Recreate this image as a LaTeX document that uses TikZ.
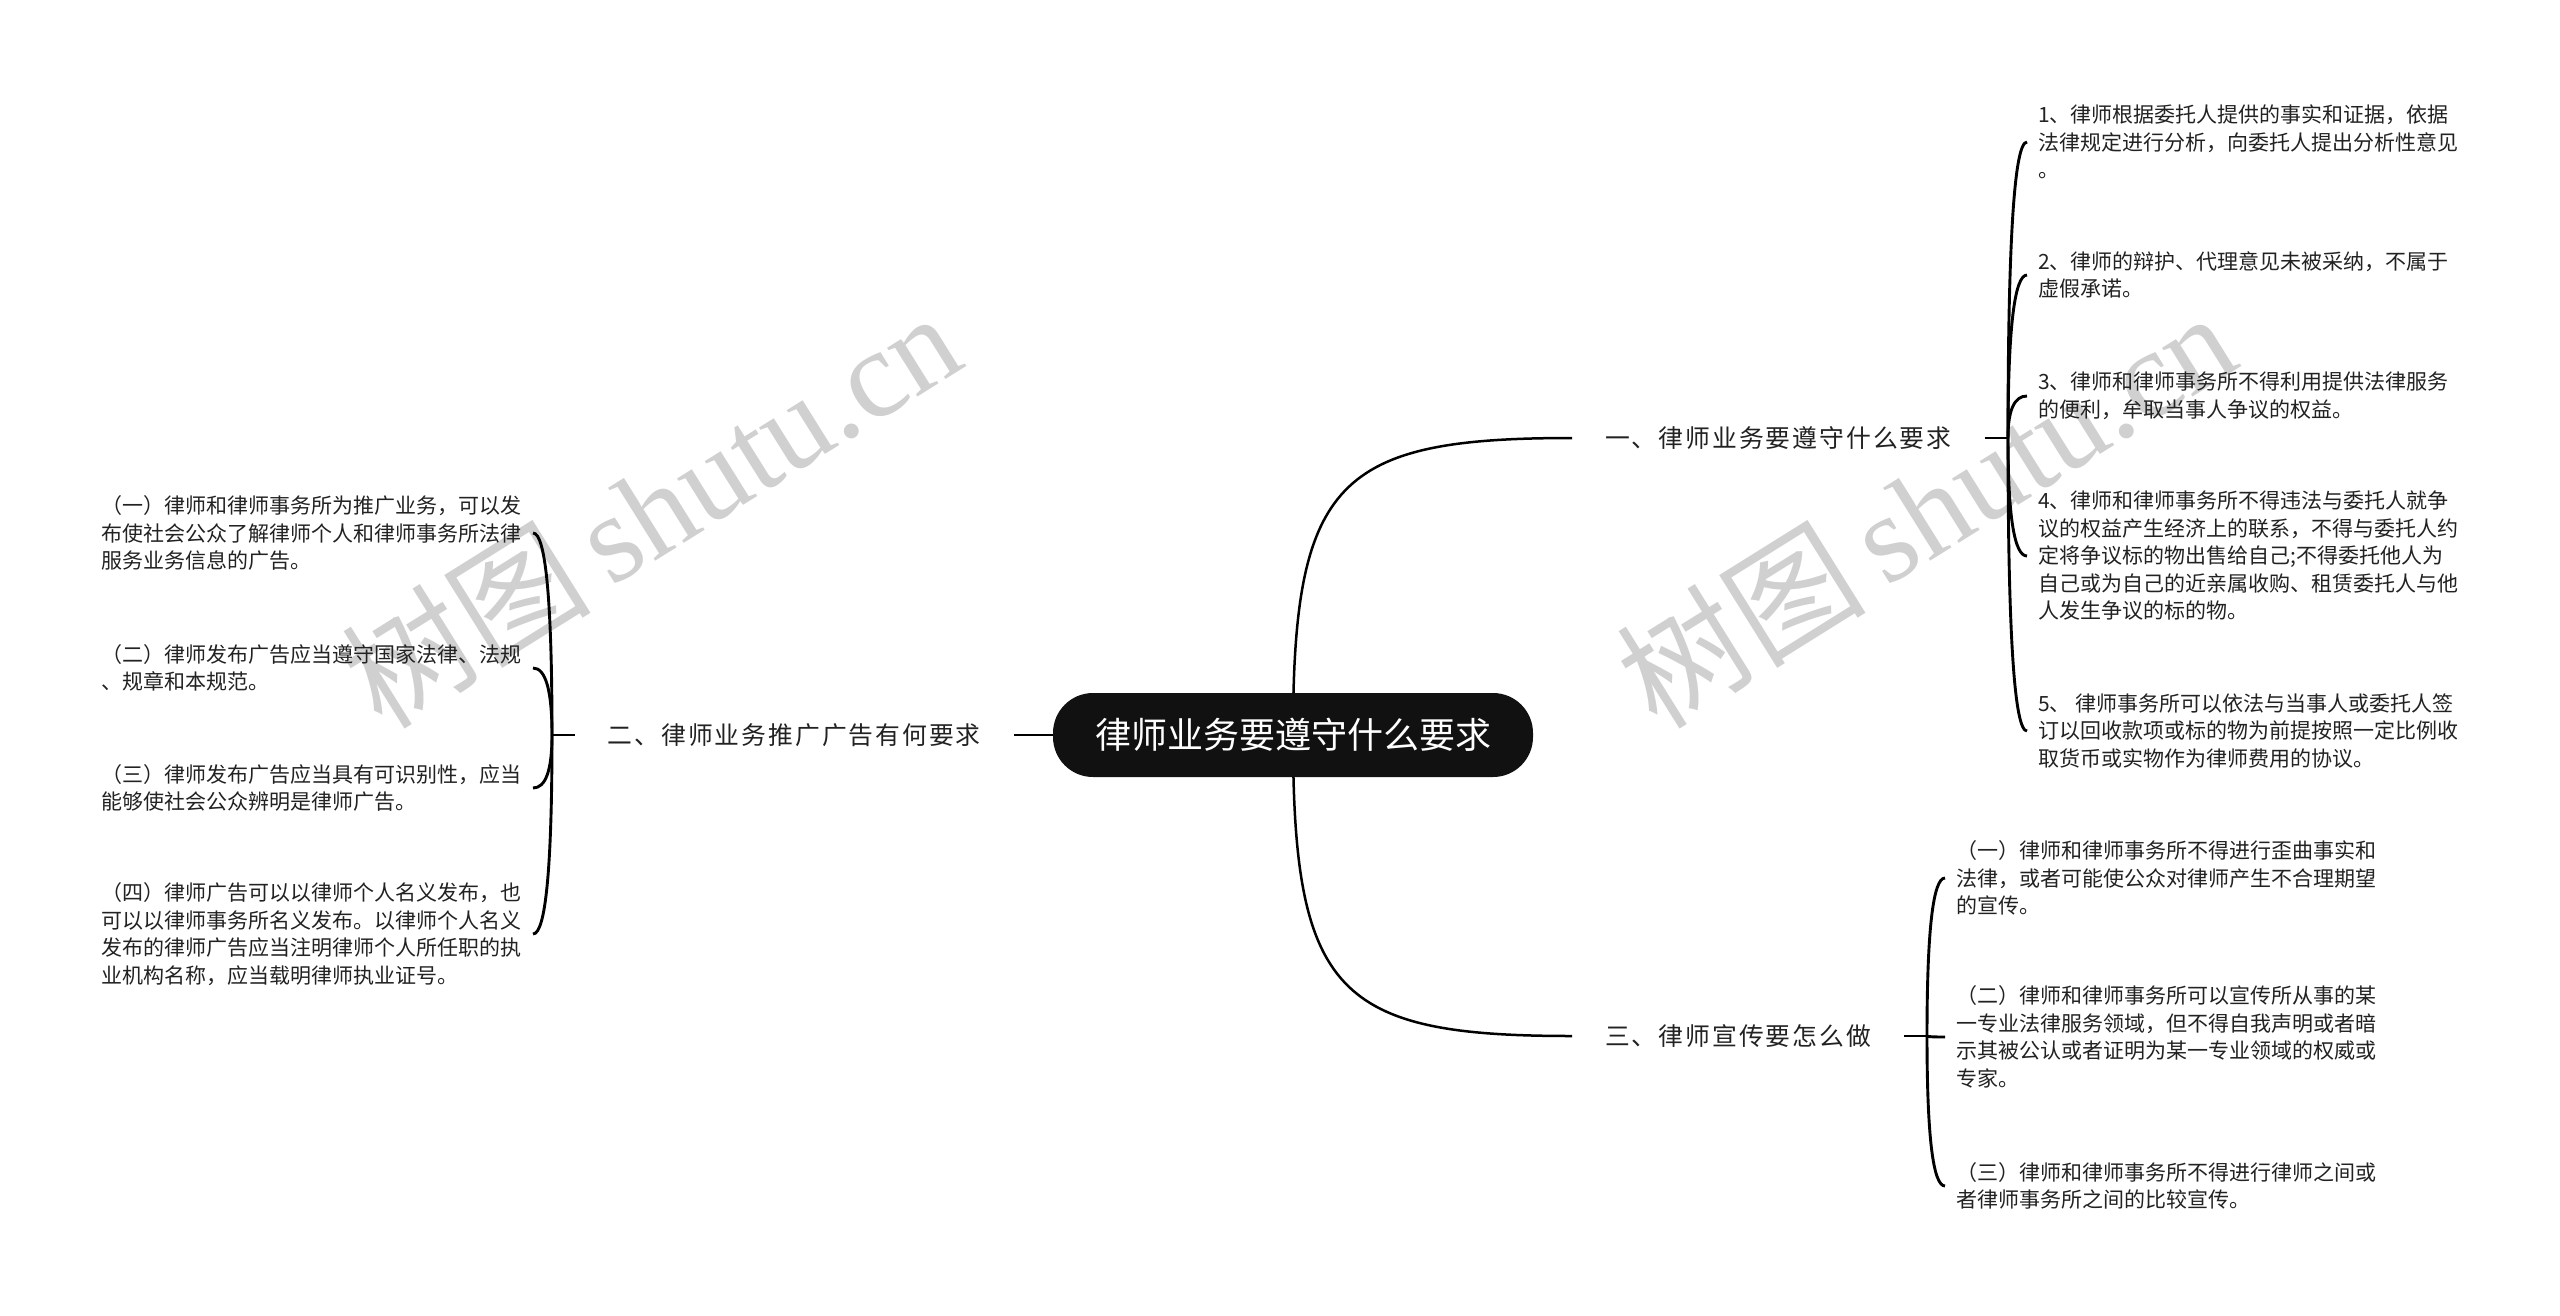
\documentclass[tikz,border=0pt]{standalone}
\usepackage{fontspec}
\newfontfamily\cjk{Noto Sans CJK SC}
\newfontfamily\cjkwide[LetterSpace=8]{Noto Sans CJK SC}
\newfontfamily\wmserif{Liberation Serif}
\usetikzlibrary{calc,backgrounds}
\definecolor{ink}{RGB}{34,34,34}
\definecolor{wm}{RGB}{208,208,208}
\definecolor{rootfill}{RGB}{17,17,17}
\tikzset{
  leafR/.style={font=\cjk\fontsize{21}{27.5}\selectfont, text=ink, align=left, inner xsep=11pt, inner ysep=0pt, anchor=west},
  leafL/.style={leafR, anchor=east},
  branchbox/.style={font=\cjkwide\fontsize{24.8}{28}\selectfont, text=ink, inner xsep=33pt, inner ysep=4pt},
  rootbox/.style={fill=rootfill, text=white, font=\cjk\fontsize{36}{40}\selectfont, rounded corners=40pt, minimum width=480pt, minimum height=84pt, inner sep=0pt},
  link/.style={draw=black, line width=2.5pt},
  bracelink/.style={draw=black, line width=2.9pt},
  brace/.style={to path={.. controls ($(\tikztostart)!0.667!(\tikztostart|-\tikztotarget)$) and ($(\tikztotarget)!0.667!(\tikztostart|-\tikztotarget)$) .. (\tikztotarget)}},
  wmark/.style={text=wm, rotate=32, inner sep=0pt}
}
\begin{document}
\begin{tikzpicture}[x=1pt,y=-1pt]
\useasboundingbox (0,0) rectangle (2560,1315);

% nodes
\node[rootbox] (root) at (1293,735) {律师业务要遵守什么要求};
\node[branchbox, anchor=west] (b1) at (1572,438) {一、律师业务要遵守什么要求};
\node[branchbox, anchor=east] (b2) at (1014,735) {二、律师业务推广广告有何要求};
\node[branchbox, anchor=west] (b3) at (1572,1036) {三、律师宣传要怎么做};
\coordinate (j1) at (2008,438);
\coordinate (j2) at (552,735);
\coordinate (j3) at (1927,1036);

\node[leafR] (l1) at (2027,142) {1、律师根据委托人提供的事实和证据，依据\\法律规定进行分析，向委托人提出分析性意见\\。};
\node[leafR] (l2) at (2027,275) {2、律师的辩护、代理意见未被采纳，不属于\\虚假承诺。};
\node[leafR] (l3) at (2027,396) {3、律师和律师事务所不得利用提供法律服务\\的便利，牟取当事人争议的权益。};
\node[leafR] (l4) at (2027,556) {4、律师和律师事务所不得违法与委托人就争\\议的权益产生经济上的联系，不得与委托人约\\定将争议标的物出售给自己;不得委托他人为\\自己或为自己的近亲属收购、租赁委托人与他\\人发生争议的标的物。};
\node[leafR] (l5) at (2027,731) {5、 律师事务所可以依法与当事人或委托人签\\订以回收款项或标的物为前提按照一定比例收\\取货币或实物作为律师费用的协议。};

\node[leafR] (m1) at (1945,878) {（一）律师和律师事务所不得进行歪曲事实和\\法律，或者可能使公众对律师产生不合理期望\\的宣传。};
\node[leafR] (m2) at (1945,1037) {（二）律师和律师事务所可以宣传所从事的某\\一专业法律服务领域，但不得自我声明或者暗\\示其被公认或者证明为某一专业领域的权威或\\专家。};
\node[leafR] (m3) at (1945,1186) {（三）律师和律师事务所不得进行律师之间或\\者律师事务所之间的比较宣传。};

\node[leafL] (n1) at (533,533) {（一）律师和律师事务所为推广业务，可以发\\布使社会公众了解律师个人和律师事务所法律\\服务业务信息的广告。};
\node[leafL] (n2) at (533,668) {（二）律师发布广告应当遵守国家法律、法规\\、规章和本规范。};
\node[leafL] (n3) at (533,788) {（三）律师发布广告应当具有可识别性，应当\\能够使社会公众辨明是律师广告。};
\node[leafL] (n4) at (533,934) {（四）律师广告可以以律师个人名义发布，也\\可以以律师事务所名义发布。以律师个人名义\\发布的律师广告应当注明律师个人所任职的执\\业机构名称，应当载明律师执业证号。};

\begin{pgfonlayer}{background}
  \fill[white] (0,0) rectangle (2560,1315);
  \node[wmark] (wm1) at (650,508) {\cjk\fontsize{125}{125}\selectfont 树图\,\wmserif shutu.cn};
  \node[wmark] (wm2) at (1925,508) {\cjk\fontsize{125}{125}\selectfont 树图\,\wmserif shutu.cn};

  % root connectors
  \draw[link] (root.center) .. controls ($(root.center|-b1.west)+(0,42)$) and ($(root.center|-b1.west)+(45,0)$) .. (b1.west);
  \draw[link] (root.center) .. controls ($(root.center|-b3.west)+(0,-42)$) and ($(root.center|-b3.west)+(45,0)$) .. (b3.west);
  \draw[link] (root.west) -- (b2.east);

  % stubs
  \draw[link] (b1.east) -- (j1);
  \draw[link] (b2.west) -- (j2);
  \draw[link] (b3.east) -- (j3);

  % braces
  \draw[bracelink] (j1) to[brace] (l1.west);
  \draw[bracelink] (j1) to[brace] (l2.west);
  \draw[bracelink] (j1) to[brace] (l3.west);
  \draw[bracelink] (j1) to[brace] (l4.west);
  \draw[bracelink] (j1) to[brace] (l5.west);

  \draw[bracelink] (j3) to[brace] (m1.west);
  \draw[bracelink] (j3) to[brace] (m2.west);
  \draw[bracelink] (j3) to[brace] (m3.west);

  \draw[bracelink] (j2) to[brace] (n1.east);
  \draw[bracelink] (j2) to[brace] (n2.east);
  \draw[bracelink] (j2) to[brace] (n3.east);
  \draw[bracelink] (j2) to[brace] (n4.east);
\end{pgfonlayer}
\end{tikzpicture}
\end{document}
